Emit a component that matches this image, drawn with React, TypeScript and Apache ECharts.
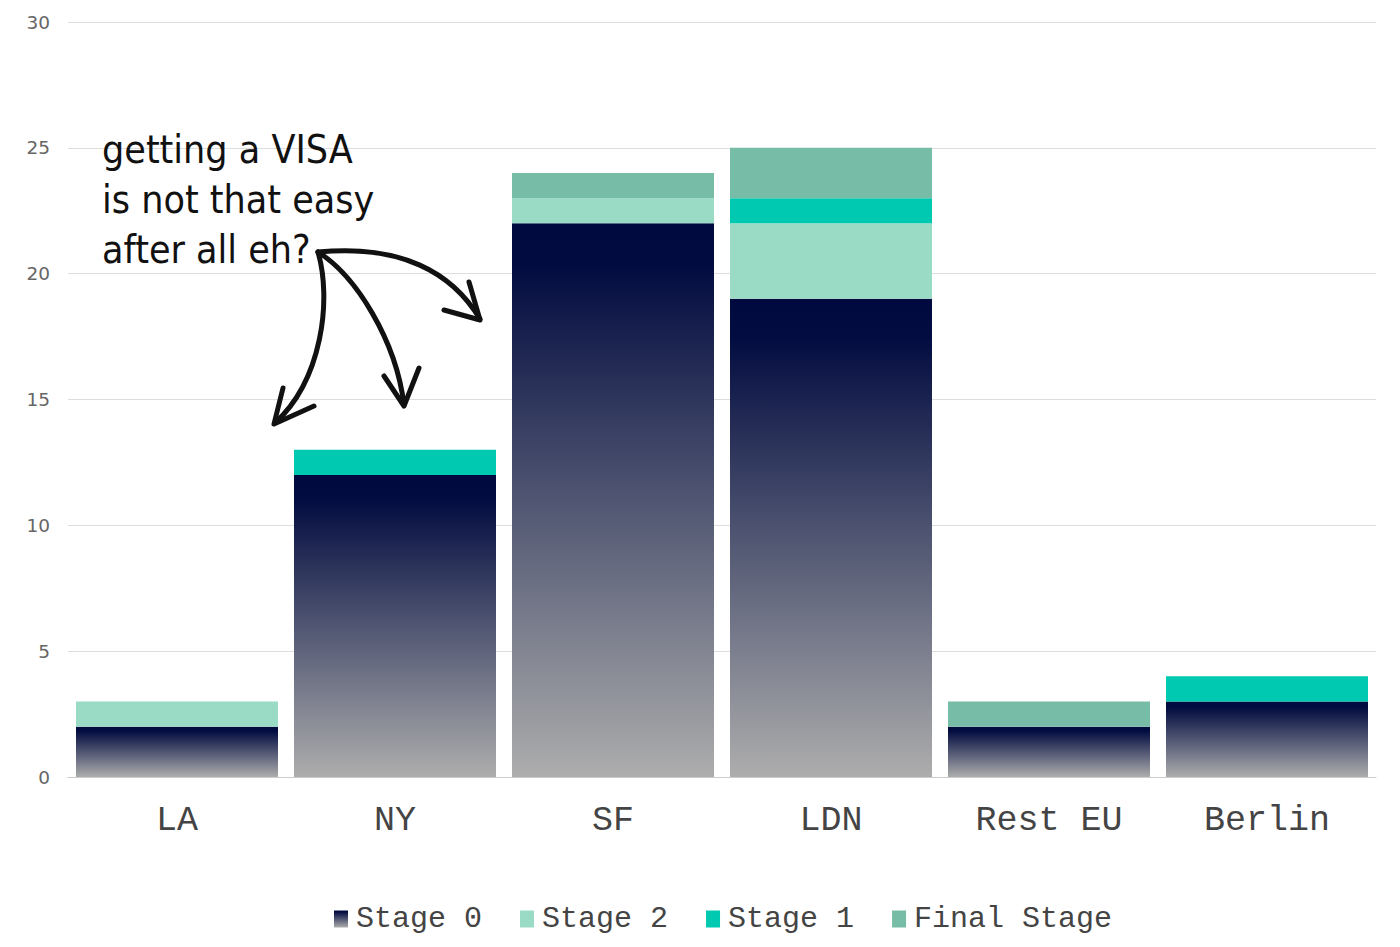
import React, { useEffect, useRef } from "react";
import * as echarts from "echarts";

const categories = ["LA", "NY", "SF", "LDN", "Rest EU", "Berlin"];
const stage0 = [2, 12, 22, 19, 2, 3];
const stage2 = [1, 0, 1, 3, 0, 0];
const stage1 = [0, 1, 0, 1, 0, 1];
const finalStage = [0, 0, 1, 2, 1, 0];
const yTicks = { min: 0, max: 30, interval: 5 };
const annotation = "getting a VISA\nis not that easy\nafter all eh?";

export default function App() {
  const ref = useRef<HTMLDivElement>(null);
  useEffect(() => {
    if (!ref.current) return;
    const chart = echarts.init(ref.current, null, { renderer: "svg" });
    const mono = "'Courier New', 'Liberation Mono', monospace";
    const gradient = new echarts.graphic.LinearGradient(0, 0, 0, 1, [
      { offset: 0, color: "#000a3e" },
      { offset: 0.08, color: "#020c40" },
      { offset: 1, color: "#adadad" },
    ]);
    const mk = (name: string, data: number[], color: any) => ({
      name,
      type: "bar",
      stack: "total",
      data,
      barWidth: 202,
      itemStyle: { color },
    });
    const arrowStyle = { stroke: "#111", lineWidth: 5, fill: null, lineCap: "round", lineJoin: "round" };
    chart.setOption({
      animation: false,
      grid: { left: 68, right: 24, top: 22, bottom: 170 },
      legend: {
        bottom: 8,
        left: 329,
        icon: "rect",
        itemWidth: 14,
        itemHeight: 17,
        itemGap: 38,
        textStyle: { fontFamily: mono, fontSize: 30, color: "#444", padding: [0, 0, 0, 3] },
        data: ["Stage 0", "Stage 2", "Stage 1", "Final Stage"],
      },
      xAxis: {
        type: "category",
        data: categories,
        axisTick: { show: false },
        axisLine: { lineStyle: { color: "#cccccc" } },
        axisLabel: { fontFamily: mono, fontSize: 35, color: "#444", margin: 26 },
      },
      yAxis: {
        type: "value",
        min: yTicks.min,
        max: yTicks.max,
        interval: yTicks.interval,
        axisLine: { show: false },
        axisTick: { show: false },
        splitLine: { lineStyle: { color: "#dddddd" } },
        axisLabel: { fontFamily: "'DejaVu Sans', Verdana, sans-serif", fontSize: 18.5, color: "#666", margin: 18 },
      },
      series: [
        mk("Stage 0", stage0, gradient),
        mk("Stage 2", stage2, "#99dbc4"),
        mk("Stage 1", stage1, "#00c9b1"),
        mk("Final Stage", finalStage, "#77bca6"),
      ],
      graphic: [
        {
          type: "text",
          left: 102,
          top: 124,
          z: 100,
          style: {
            text: annotation,
            fontFamily: "'DejaVu Sans Condensed', 'Liberation Sans Narrow', 'Noto Sans', sans-serif",
            fontSize: 39,
            lineHeight: 50,
            fill: "#111",
          },
        },
        { type: "bezierCurve", z: 100, shape: { x1: 318, y1: 252, cpx1: 332, cpy1: 300, cpx2: 322, cpy2: 380, x2: 275, y2: 423 }, style: arrowStyle },
        { type: "polyline", z: 100, shape: { points: [[283, 388], [274, 424], [314, 406]] }, style: arrowStyle },
        { type: "bezierCurve", z: 100, shape: { x1: 318, y1: 252, cpx1: 356, cpy1: 276, cpx2: 396, cpy2: 340, x2: 404, y2: 405 }, style: arrowStyle },
        { type: "polyline", z: 100, shape: { points: [[384, 376], [404, 406], [419, 368]] }, style: arrowStyle },
        { type: "bezierCurve", z: 100, shape: { x1: 318, y1: 252, cpx1: 400, cpy1: 244, cpx2: 452, cpy2: 272, x2: 480, y2: 319 }, style: arrowStyle },
        { type: "polyline", z: 100, shape: { points: [[444, 310], [480, 320], [469, 282]] }, style: arrowStyle },
      ],
    });
    return () => chart.dispose();
  }, []);
  return (
    <div
      ref={ref}
      style={{ position: "fixed", left: 0, top: 0, width: 1400, height: 947, background: "#fff" }}
    />
  );
}
